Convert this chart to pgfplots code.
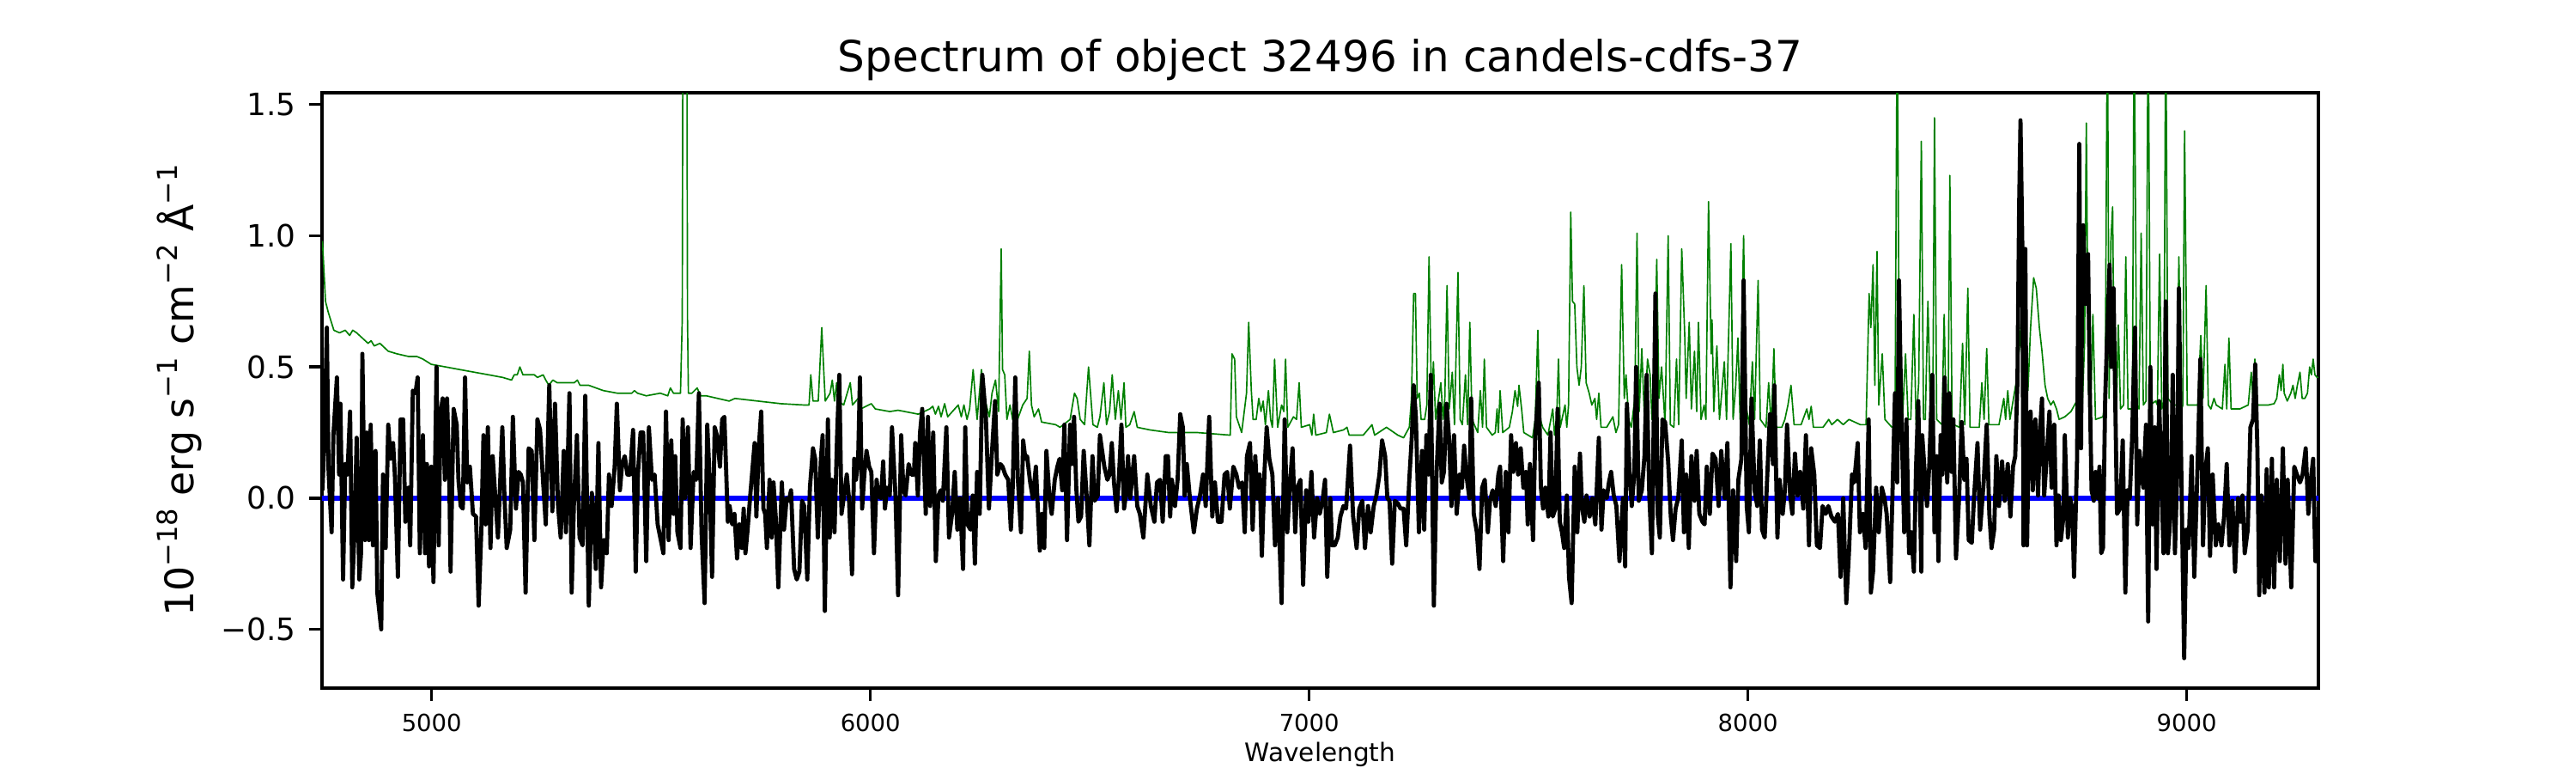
\documentclass[border=0pt]{standalone}
\usepackage{pgfplots}
\pgfplotsset{compat=1.18}
\usepackage{fontspec}
\setmainfont{DejaVu Sans}
\definecolor{mplgreen}{rgb}{0,0.5,0}
\newcommand\sups[1]{\raisebox{0.42em}{\fontsize{7.7bp}{8bp}\selectfont #1}}
\begin{document}
\begin{tikzpicture}
\path[use as bounding box] (0,0) rectangle (10in,3in);
\begin{axis}[name=ax, at={(1.25in,0.33in)}, anchor=south west,
  scale only axis, width=7.75in, height=2.31in,
  xmin=4750, xmax=9300, ymin=-0.724, ymax=1.545,
  axis line style={line width=0.8bp},
  tick align=outside, major tick length=3.5bp,
  every tick/.style={black, line width=0.8bp},
  xtick={5000,6000,7000,8000,9000},
  xticklabels={5000,6000,7000,8000,9000},
  ytick={-0.5,0,0.5,1,1.5},
  yticklabels={−0.5,0.0,0.5,1.0,1.5},
  xticklabel style={font=\fontsize{6.6bp}{7bp}\selectfont, inner sep=0pt, anchor=north, yshift=-3.6bp},
  yticklabel style={font=\fontsize{8.6bp}{9bp}\selectfont, inner sep=0pt, anchor=east, xshift=-3.6bp},
  xtick pos=bottom, ytick pos=left,
  clip=true]
\addplot[mplgreen, line width=0.4bp, line join=round] coordinates {
(4751,0.98)(4758,0.75)(4764,0.71)(4777,0.64)(4790,0.63)(4803,0.64)(4813,0.62)(4820,0.64)(4829,0.63)(4842,0.61)(4855,0.59)(4862,0.60)(4869,0.58)(4882,0.59)(4901,0.56)(4921,0.55)(4947,0.54)(4966,0.54)(4980,0.53)(4999,0.51)(5032,0.50)(5064,0.49)(5097,0.48)(5130,0.47)(5162,0.46)(5182,0.45)(5188,0.47)(5195,0.47)(5201,0.50)(5208,0.47)(5221,0.47)(5234,0.47)(5241,0.46)(5254,0.47)(5260,0.45)(5267,0.43)(5276,0.45)(5286,0.44)(5306,0.44)(5325,0.44)(5332,0.45)(5338,0.43)(5358,0.43)(5391,0.41)(5423,0.40)(5456,0.40)(5462,0.41)(5469,0.40)(5489,0.39)(5521,0.40)(5538,0.39)(5544,0.42)(5551,0.40)(5567,0.40)(5571,0.68)(5574,3.0)(5580,3.0)(5583,0.68)(5585,0.40)(5593,0.40)(5605,0.42)(5613,0.39)(5626,0.39)(5652,0.38)(5678,0.37)
(5691,0.38)(5743,0.37)(5796,0.36)(5848,0.355)(5860,0.355)(5864,0.47)(5869,0.37)(5881,0.37)(5889,0.65)(5894,0.47)(5897,0.37)(5908,0.40)(5913,0.45)(5918,0.37)(5923,0.44)(5927,0.37)(5939,0.355)(5954,0.44)(5959,0.355)(5972,0.38)(5978,0.34)(6002,0.36)(6011,0.34)(6044,0.33)(6063,0.335)(6109,0.32)(6135,0.34)(6142,0.35)(6148,0.32)(6155,0.35)(6161,0.31)(6169,0.36)(6176,0.31)(6200,0.355)(6207,0.31)(6213,0.355)(6220,0.30)(6226,0.34)(6234,0.49)(6243,0.30)(6253,0.49)(6258,0.38)(6264,0.355)(6271,0.31)(6277,0.40)(6285,0.45)(6292,0.33)(6298,0.95)(6301,0.49)(6306,0.47)(6311,0.30)(6318,0.355)(6324,0.30)(6331,0.28)(6347,0.355)(6357,0.38)(6362,0.56)(6367,0.355)(6373,0.31)(6383,0.34)(6390,0.29)(6422,0.28)(6432,0.27)(6455,0.30)(6465,0.40)(6471,0.38)(6478,0.30)(6488,0.28)(6497,0.50)(6507,0.28)(6517,0.27)(6523,0.31)(6532,0.44)(6538,0.28)(6545,0.33)(6551,0.47)(6558,0.30)(6565,0.41)(6571,0.30)(6578,0.44)(6582,0.27)(6591,0.28)(6601,0.33)
(6608,0.27)(6637,0.26)(6680,0.25)(6745,0.25)(6820,0.24)(6824,0.55)(6830,0.53)(6834,0.31)(6846,0.25)(6857,0.40)(6862,0.67)(6868,0.41)(6872,0.30)(6879,0.30)(6885,0.38)(6890,0.33)(6895,0.37)(6900,0.28)(6907,0.41)(6912,0.30)(6916,0.27)(6921,0.53)(6928,0.27)(6937,0.355)(6942,0.33)(6946,0.53)(6951,0.27)(6964,0.31)(6971,0.30)(6977,0.44)(6982,0.27)(7001,0.28)(7006,0.24)(7010,0.32)(7015,0.24)(7039,0.25)(7046,0.32)(7055,0.25)(7078,0.26)(7086,0.27)(7091,0.24)(7123,0.24)(7143,0.28)(7149,0.24)(7176,0.27)(7202,0.24)(7215,0.23)(7228,0.27)(7233,0.38)(7238,0.78)(7242,0.78)(7246,0.38)(7251,0.40)(7255,0.30)(7263,0.30)(7268,0.355)(7273,0.92)(7279,0.33)(7283,0.52)(7288,0.30)(7300,0.44)(7305,0.30)(7309,0.38)(7314,0.81)(7319,0.34)(7326,0.48)(7331,0.28)(7339,0.86)(7344,0.30)(7349,0.28)(7356,0.47)(7361,0.28)(7366,0.67)(7371,0.30)(7384,0.25)(7390,0.41)(7395,0.27)(7399,0.53)(7404,0.27)(7417,0.24)(7424,0.25)(7428,0.34)(7431,0.25)(7435,0.41)(7441,0.25)(7456,0.27)(7463,0.33)(7469,0.41)(7475,0.35)(7478,0.43)(7484,0.34)(7489,0.25)
(7499,0.24)(7509,0.23)(7515,0.30)(7521,0.64)(7525,0.31)(7532,0.27)(7544,0.24)(7555,0.34)(7559,0.24)(7564,0.31)(7568,0.53)(7572,0.27)(7583,0.355)(7587,0.27)(7591,0.355)(7596,1.09)(7600,0.75)(7605,0.74)(7610,0.50)(7615,0.43)(7620,0.50)(7626,0.81)(7631,0.44)(7638,0.40)(7644,0.355)(7651,0.38)(7655,0.30)(7660,0.40)(7665,0.27)(7678,0.27)(7692,0.31)(7699,0.25)(7705,0.28)(7712,0.89)(7718,0.38)(7722,0.47)(7728,0.30)(7734,0.27)(7742,0.38)(7747,1.01)(7752,0.33)(7758,0.57)(7764,0.30)(7771,0.53)(7777,0.47)(7781,0.30)(7786,0.38)(7792,0.91)(7797,0.38)(7803,0.50)(7811,0.28)(7818,1.00)(7823,0.28)(7831,0.27)(7837,0.53)(7842,0.28)(7849,0.95)(7856,0.61)(7859,0.38)(7866,0.67)(7871,0.34)(7878,0.56)(7883,0.33)(7887,0.67)(7893,0.30)(7900,0.355)(7904,0.30)(7910,1.13)(7916,0.55)(7918,0.68)(7922,0.33)(7929,0.58)(7935,0.30)(7946,0.52)(7951,0.30)(7961,0.97)(7966,0.30)(7972,0.43)(7977,0.61)(7982,0.30)(7990,1.00)(7995,0.355)(8003,0.28)(8010,0.52)(8015,0.30)(8023,0.83)(8028,0.30)(8041,0.27)(8047,0.44)(8053,0.27)(8059,0.57)(8064,0.27)(8077,0.27)(8084,0.30)(8091,0.355)(8098,0.43)(8105,0.28)(8121,0.28)(8134,0.34)(8139,0.30)(8144,0.35)(8149,0.27)(8171,0.27)(8184,0.30)(8191,0.28)(8204,0.30)(8217,0.28)(8230,0.30)(8256,0.28)(8269,0.28)(8276,0.78)(8280,0.65)(8285,0.89)(8289,0.43)(8294,0.94)(8298,0.355)(8306,0.55)(8312,0.30)(8328,0.27)(8335,0.28)(8340,1.9)(8345,0.34)(8352,0.30)(8359,0.55)(8365,0.30)(8371,0.30)(8378,0.70)(8383,0.28)(8389,0.44)(8395,1.36)(8400,0.30)
(8404,0.30)(8410,0.75)(8416,0.30)(8421,0.27)(8425,1.45)(8430,0.30)(8442,0.28)(8447,0.70)(8452,0.28)(8456,0.30)(8460,1.23)(8465,0.31)(8469,0.28)(8482,0.27)(8489,0.59)(8494,0.28)(8501,0.80)(8506,0.27)(8527,0.27)(8533,0.44)(8538,0.30)(8544,0.57)(8549,0.28)(8566,0.28)(8572,0.28)(8583,0.38)(8587,0.30)(8592,0.41)(8597,0.30)(8605,0.38)(8611,0.44)(8618,0.56)(8625,0.74)(8630,0.83)(8638,0.41)(8644,0.65)(8651,0.84)(8657,0.80)(8664,0.65)(8670,0.56)(8677,0.43)(8683,0.38)(8690,0.355)(8696,0.37)(8703,0.34)(8709,0.30)(8722,0.31)(8736,0.33)(8749,0.37)(8755,0.33)(8762,0.355)(8767,0.59)(8771,1.43)(8776,0.41)(8781,0.33)(8786,0.70)(8792,0.30)(8809,0.31)(8814,0.38)(8819,1.9)(8823,0.38)(8827,0.98)(8831,1.11)(8835,0.38)(8840,0.355)(8844,0.66)(8849,0.34)(8856,0.355)(8861,0.92)(8866,0.34)(8876,0.34)(8880,1.9)(8886,0.355)(8891,0.34)(8896,1.01)(8901,0.355)(8907,0.37)(8912,1.9)(8917,0.355)(8929,0.37)(8933,0.355)(8938,0.93)(8943,0.34)(8948,0.37)(8952,1.9)(8957,0.38)(8969,0.355)(8977,0.355)(8982,0.92)(8987,0.33)(8991,0.355)(8995,1.40)(9001,0.355)(9025,0.355)(9032,0.62)(9037,0.38)(9044,0.81)(9049,0.355)(9055,0.34)(9062,0.38)(9067,0.355)(9081,0.34)(9087,0.51)(9091,0.34)(9096,0.61)(9101,0.34)(9121,0.34)(9140,0.355)(9147,0.48)(9151,0.37)(9155,0.53)(9160,0.355)(9186,0.355)(9199,0.36)(9205,0.38)(9211,0.47)(9215,0.41)(9219,0.51)(9222,0.40)(9229,0.37)(9237,0.40)(9242,0.43)(9247,0.38)(9252,0.43)(9258,0.48)(9263,0.38)(9269,0.38)(9275,0.40)(9280,0.50)(9284,0.47)(9288,0.53)(9292,0.47)(9297,0.46)(9302,0.46)
};
\addplot[blue, line width=1.5bp] coordinates {(4740,0)(9310,0)};
\addplot[black, line width=1.15bp, line join=round] coordinates {
(4751,0.03)(4756,0.24)(4761,0.65)(4765,0.10)(4772,-0.13)(4776,0.24)(4784,0.46)(4789,0.09)(4792,0.36)(4798,-0.31)(4803,0.13)(4808,0.09)(4814,0.33)(4819,-0.34)(4824,-0.13)(4829,0.23)(4835,-0.31)(4839,-0.21)(4842,0.55)(4848,-0.16)(4852,0.25)(4857,-0.16)(4861,0.28)(4866,-0.18)(4872,0.18)(4876,-0.36)(4885,-0.50)(4889,0.09)(4895,-0.19)(4901,0.28)(4906,0.15)(4912,0.21)(4916,0.09)(4923,-0.30)(4929,0.30)(4935,0.30)(4940,-0.09)(4947,0.04)(4951,-0.18)(4957,0.41)(4963,0.40)(4968,0.46)(4973,-0.21)(4980,0.24)(4985,-0.21)(4989,0.13)(4994,-0.26)(4999,0.12)(5004,-0.32)(5011,0.50)(5016,-0.18)(5020,0.32)(5025,0.38)(5030,0.07)(5035,0.38)(5040,0.09)(5043,-0.28)(5050,0.34)(5057,0.28)(5061,0.07)(5066,-0.03)(5071,-0.04)(5076,0.46)(5081,0.06)(5087,0.12)(5094,-0.06)(5101,-0.07)(5107,-0.41)(5113,-0.13)(5118,0.24)(5123,-0.10)(5128,0.27)(5134,-0.19)(5139,0.16)(5144,0.03)(5151,-0.15)(5156,0.06)(5161,0.27)(5166,0.00)(5171,-0.19)(5179,-0.12)(5185,0.31)(5192,-0.04)(5198,0.10)(5203,0.09)(5208,0.06)(5214,-0.36)(5221,0.19)(5228,0.18)(5234,-0.16)(5241,0.30)(5247,0.26)(5254,0.06)(5260,-0.10)(5268,0.43)(5275,-0.05)(5281,0.36)(5288,-0.03)(5294,-0.15)(5301,0.18)(5306,-0.13)(5314,0.40)(5319,-0.36)(5324,-0.03)(5331,0.24)(5337,-0.15)(5344,-0.18)(5350,0.39)(5358,-0.41)(5365,0.02)(5370,-0.07)(5374,-0.27)(5380,0.21)(5386,-0.34)(5392,-0.16)(5399,-0.21)(5404,0.09)(5410,-0.03)(5417,0.12)(5422,0.36)(5429,0.03)(5434,0.13)(5440,0.16)(5446,0.09)(5452,0.09)(5459,0.26)(5465,-0.28)(5470,0.09)(5476,0.25)(5482,0.25)(5489,-0.24)(5495,0.27)(5502,0.07)(5508,0.09)(5515,-0.10)(5521,-0.15)(5528,-0.21)(5534,0.33)(5540,-0.16)(5546,0.22)(5551,-0.06)(5555,0.16)(5560,-0.13)(5567,-0.19)(5572,0.30)(5577,0.00)(5584,0.27)(5590,-0.19)(5597,0.10)(5603,0.07)(5609,0.40)(5615,-0.13)(5622,-0.40)(5628,0.28)(5633,0.09)(5639,-0.30)(5645,0.27)(5650,0.24)(5657,0.12)(5662,0.30)(5667,0.31)(5675,-0.09)
(5679,-0.03)(5685,-0.10)(5690,-0.06)(5696,-0.23)(5701,-0.10)(5707,-0.19)(5711,-0.04)(5715,-0.21)(5720,-0.12)(5726,0.01)(5730,0.09)(5736,0.21)(5740,-0.07)(5745,0.18)(5751,0.33)(5756,-0.04)(5760,-0.06)(5764,-0.19)(5770,0.07)(5775,-0.15)(5779,0.06)(5784,-0.07)(5790,-0.34)(5798,0.06)(5803,-0.12)(5809,0.00)(5814,-0.01)(5819,0.03)(5826,-0.27)(5832,-0.31)(5838,-0.28)(5844,-0.01)(5849,-0.03)(5856,-0.31)(5862,0.04)(5869,0.19)(5874,0.15)(5880,-0.15)(5887,0.15)(5891,0.24)(5896,-0.43)(5903,0.30)(5907,-0.15)(5912,0.07)(5918,-0.13)(5924,0.24)(5929,0.47)(5934,-0.06)(5939,0.00)(5946,0.09)(5951,0.00)(5958,-0.29)(5963,0.15)(5967,0.07)(5972,0.15)(5976,0.46)(5981,-0.04)(5986,0.09)(5991,0.18)(5997,0.12)(6002,0.10)(6008,-0.21)(6014,0.07)(6018,0.01)(6024,0.00)(6029,0.14)(6033,-0.04)(6038,0.04)(6044,0.01)(6049,0.27)(6057,0.01)(6063,-0.37)(6070,0.24)(6075,0.03)(6080,0.01)(6087,0.13)(6093,0.09)(6099,0.09)(6102,0.21)(6108,0.01)(6113,0.25)(6118,0.34)(6126,-0.06)(6131,0.31)(6136,-0.03)(6143,0.25)(6149,-0.24)(6155,0.01)(6160,0.03)(6165,-0.01)(6173,0.27)(6179,-0.15)(6186,-0.06)(6192,0.10)(6198,-0.12)(6204,0.00)(6211,-0.27)(6216,0.27)(6221,-0.10)(6228,-0.12)(6233,0.01)(6238,-0.25)(6243,0.10)(6249,-0.06)(6255,0.47)(6263,0.31)(6270,-0.04)(6276,0.15)(6284,0.37)(6289,0.09)(6296,0.13)(6301,0.12)(6307,0.09)(6314,0.07)(6320,-0.12)(6324,0.03)(6330,0.46)(6336,0.07)(6343,-0.13)(6348,0.22)(6353,0.15)(6357,0.16)(6364,0.06)(6370,0.00)(6377,0.12)(6386,-0.20)(6391,-0.06)(6396,-0.19)(6401,0.18)(6408,0.00)(6413,-0.06)(6420,0.07)(6426,0.12)(6431,0.15)(6437,0.03)(6442,0.28)(6448,-0.16)(6455,0.28)(6459,0.13)(6464,0.31)(6469,0.04)(6474,-0.09)(6480,-0.07)(6486,0.18)(6493,0.00)(6499,-0.18)(6506,0.16)(6511,-0.01)(6518,0.01)(6523,0.24)(6528,0.18)(6533,0.12)(6540,0.07)(6545,0.09)(6550,0.21)(6555,0.06)(6561,-0.05)(6566,0.07)(6572,0.28)(6578,-0.04)
(6582,0.01)(6587,0.16)(6592,0.00)(6601,0.16)(6608,-0.03)(6614,-0.06)(6622,-0.15)(6631,0.09)(6639,-0.03)(6647,-0.09)(6653,0.06)(6660,0.07)(6666,-0.09)(6673,0.16)(6678,0.16)(6683,-0.07)(6687,0.07)(6694,-0.03)(6700,0.07)(6706,0.32)(6712,0.27)(6716,0.01)(6721,0.13)(6728,0.00)(6737,-0.13)(6744,-0.04)(6751,0.01)(6758,0.09)(6764,-0.03)(6772,0.31)(6779,-0.07)(6785,0.06)(6792,-0.09)(6800,-0.09)(6807,0.09)(6813,0.10)(6819,-0.04)(6827,0.12)(6834,0.09)(6840,0.04)(6847,0.06)(6853,-0.13)(6858,0.16)(6865,0.21)(6871,-0.12)(6877,0.16)(6882,0.00)(6887,0.09)(6892,-0.22)(6898,0.10)(6903,0.27)(6909,0.15)(6916,0.09)(6922,-0.18)(6929,0.00)(6937,-0.40)(6944,0.30)(6950,-0.13)(6955,0.03)(6962,0.19)(6968,-0.13)(6973,0.04)(6980,0.07)(6986,-0.33)(6993,0.03)(6998,-0.09)(7005,0.10)(7011,-0.15)(7018,0.00)(7024,-0.06)(7031,0.00)(7036,0.07)(7041,-0.30)(7048,0.00)(7052,-0.18)(7058,-0.18)(7065,-0.15)(7071,-0.07)(7078,-0.03)(7084,-0.04)(7093,0.20)(7100,-0.07)(7108,-0.19)(7114,-0.04)(7121,-0.01)(7127,-0.19)(7134,-0.03)(7140,-0.13)(7147,-0.03)(7153,0.01)(7160,0.09)(7166,0.22)(7173,0.16)(7178,0.00)(7183,-0.01)(7189,-0.25)(7195,-0.01)(7202,-0.02)(7208,-0.04)(7215,-0.04)(7221,-0.18)(7228,0.07)(7234,0.24)(7238,0.43)(7243,0.31)(7250,-0.13)(7257,0.18)(7262,-0.12)(7267,0.24)(7272,0.09)(7277,0.47)(7284,-0.41)(7290,0.09)(7297,0.36)(7302,0.06)(7307,0.10)(7313,0.36)(7319,0.22)(7324,-0.03)(7330,0.24)(7336,-0.06)(7343,0.09)(7348,0.04)(7353,0.20)(7358,0.09)(7365,0.00)(7369,0.38)(7375,-0.06)(7382,-0.13)(7388,-0.27)(7394,0.04)(7400,0.07)(7407,-0.13)(7412,-0.01)(7418,0.03)(7425,-0.03)(7431,0.09)(7435,0.12)(7442,-0.24)(7448,0.10)(7454,-0.13)(7460,0.24)(7465,0.10)(7471,0.21)(7476,0.09)(7482,0.19)(7488,0.04)
(7494,0.10)(7498,-0.10)(7503,0.13)(7510,-0.16)(7515,0.23)(7523,0.44)(7528,0.04)(7533,-0.04)(7538,0.04)(7545,-0.07)(7550,0.25)(7555,-0.07)(7561,-0.04)(7566,0.34)(7571,-0.09)(7576,-0.13)(7581,-0.19)(7587,0.01)(7592,-0.30)(7598,-0.40)(7605,0.12)(7611,-0.13)(7617,0.17)(7622,-0.04)(7627,-0.09)(7632,0.01)(7639,-0.07)(7645,0.00)(7652,-0.10)(7660,0.23)(7666,-0.12)(7671,0.03)(7678,0.00)(7683,0.06)(7688,0.10)(7694,0.01)(7700,-0.03)(7707,-0.24)(7715,0.00)(7720,-0.26)(7724,0.36)(7730,0.10)(7735,-0.03)(7741,0.10)(7745,0.50)(7751,-0.01)(7758,0.03)(7764,0.16)(7769,0.47)(7775,0.01)(7781,-0.21)(7789,0.78)(7794,-0.06)(7799,-0.15)(7805,0.30)(7811,0.29)(7818,0.14)(7824,-0.07)(7829,-0.16)(7835,-0.04)(7841,0.00)(7849,0.22)(7854,-0.13)(7859,0.09)(7865,-0.19)(7871,0.16)(7878,-0.01)(7883,0.18)(7889,-0.06)(7896,-0.09)(7901,-0.10)(7906,0.12)(7913,-0.06)(7919,0.17)(7926,0.15)(7933,-0.03)(7939,0.18)(7947,0.00)(7953,0.21)(7960,-0.34)(7966,0.03)(7973,-0.24)(7978,0.07)(7985,0.15)(7990,0.83)(7997,-0.03)(8002,-0.13)(8008,0.38)(8015,0.03)(8021,-0.03)(8027,0.22)(8032,-0.12)(8038,-0.15)(8045,0.13)(8050,0.32)(8057,0.13)(8060,0.43)(8067,-0.15)(8072,0.07)(8079,-0.06)(8084,0.03)(8089,0.28)(8096,0.01)(8101,-0.06)(8107,0.17)(8113,0.01)(8119,0.10)(8126,-0.04)(8132,0.24)(8139,-0.18)(8144,0.19)(8151,0.09)(8157,-0.18)(8164,-0.19)(8170,-0.03)(8177,-0.06)(8183,-0.03)(8190,-0.07)(8198,-0.09)(8205,-0.06)(8211,-0.30)(8217,0.00)(8224,-0.40)(8230,-0.21)(8237,0.09)(8242,0.06)(8250,0.21)(8255,-0.13)(8262,-0.06)(8268,-0.19)(8275,0.30)(8280,-0.36)(8285,-0.28)(8292,0.04)(8298,-0.13)(8305,0.04)(8311,0.00)(8316,-0.06)(8324,-0.32)(8329,0.00)(8335,0.40)(8340,0.06)(8344,0.83)(8349,0.36)(8356,-0.13)(8361,0.30)(8367,-0.21)(8372,-0.13)(8378,-0.28)(8383,0.12)(8388,0.37)(8395,-0.28)
(8397,0.24)(8403,0.09)(8408,-0.03)(8413,0.12)(8420,0.47)(8425,-0.13)(8430,0.16)(8434,-0.24)(8439,0.24)(8443,0.09)(8448,0.46)(8454,0.06)(8459,0.40)(8464,0.10)(8468,0.30)(8474,-0.23)(8481,0.00)(8487,0.29)(8493,0.07)(8498,0.15)(8503,-0.16)(8510,-0.17)(8515,0.00)(8523,0.21)(8529,-0.12)(8537,0.06)(8544,0.28)(8550,-0.06)(8555,-0.19)(8561,-0.12)(8566,0.16)(8572,-0.03)(8579,0.14)(8585,-0.01)(8592,0.13)(8598,-0.07)(8604,0.12)(8609,0.16)(8614,0.44)(8618,1.12)(8621,1.44)(8625,0.98)(8628,-0.18)(8632,0.95)(8636,-0.18)(8640,0.27)(8644,0.33)(8649,0.03)(8655,0.30)(8661,0.01)(8666,0.27)(8670,0.38)(8675,0.01)(8681,0.16)(8687,0.33)(8692,0.04)(8698,0.28)(8703,-0.18)(8708,0.01)(8713,-0.16)(8719,-0.07)(8722,0.24)(8729,-0.15)(8734,0.00)(8739,-0.04)(8743,-0.30)(8750,0.15)(8755,1.35)(8759,0.19)(8762,0.95)(8764,1.04)(8769,0.74)(8775,0.93)(8779,0.41)(8783,0.03)(8788,-0.01)(8792,0.10)(8797,0.00)(8801,0.12)(8805,-0.21)(8809,-0.19)(8814,0.38)(8819,0.64)(8824,0.89)(8828,0.50)(8833,0.80)(8837,0.37)(8841,-0.06)(8848,-0.04)(8854,0.22)(8860,-0.36)(8865,0.03)(8870,0.00)(8875,0.21)(8882,0.65)(8887,-0.10)(8892,0.18)(8897,0.09)(8901,0.04)(8907,0.28)(8912,-0.47)(8917,0.50)(8922,-0.10)(8927,0.27)(8931,-0.27)(8937,0.37)(8942,0.09)(8947,-0.21)(8952,0.75)(8957,-0.21)(8963,-0.06)(8968,0.47)(8973,-0.21)(8978,0.09)(8982,0.80)(8987,0.16)(8994,-0.61)(8999,-0.12)(9004,-0.19)(9011,0.16)(9017,-0.30)(9024,0.09)(9031,0.53)(9037,-0.18)(9042,0.10)(9048,0.19)(9053,-0.22)(9059,0.09)(9066,-0.18)(9072,-0.10)(9079,-0.18)(9085,-0.07)(9091,0.13)(9097,-0.18)(9104,-0.01)(9110,-0.28)(9117,0.00)(9122,-0.09)(9127,0.01)(9132,-0.21)(9139,-0.12)(9145,0.27)(9151,0.30)(9156,0.51)(9161,0.18)(9165,-0.37)(9170,0.01)(9177,-0.36)(9182,0.11)(9187,-0.34)(9194,0.15)(9199,-0.34)(9205,0.07)(9212,-0.24)(9219,0.19)(9225,-0.25)(9230,0.07)(9238,-0.34)(9245,0.12)(9251,0.09)(9258,0.06)(9264,0.09)(9271,0.19)(9277,-0.06)(9282,0.06)(9288,0.15)(9293,-0.24)(9300,-0.24)
};
\end{axis}
\node[anchor=base, font=\fontsize{12bp}{14bp}\selectfont] at ([yshift=6bp]ax.north) {Spectrum of object 32496 in candels-cdfs-37};
\node[anchor=base, font=\fontsize{7.1bp}{8bp}\selectfont] at ([yshift=-20.6bp]ax.south) {Wavelength};
\node[anchor=base, rotate=90, font=\fontsize{11bp}{13bp}\selectfont] at ([xshift=-35.8bp]ax.west) {10\sups{−18} erg s\sups{−1} cm\sups{−2} Å\sups{−1}};
\end{tikzpicture}
\end{document}
